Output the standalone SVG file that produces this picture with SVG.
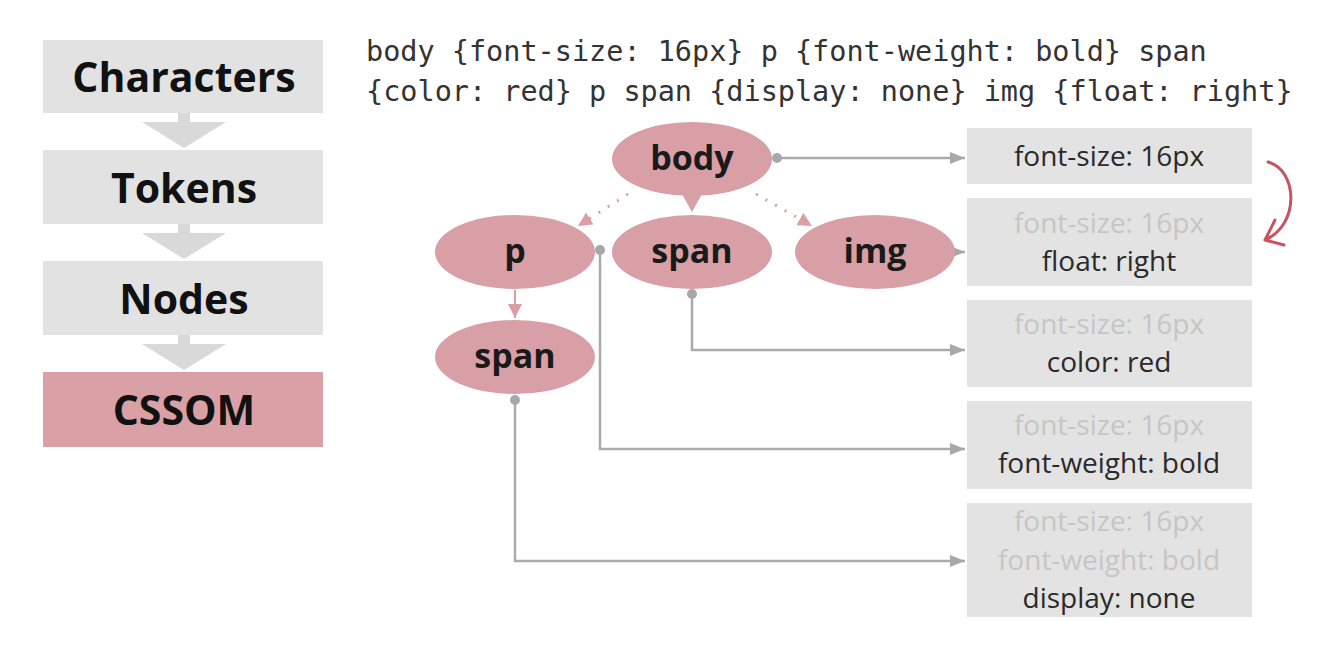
<svg xmlns="http://www.w3.org/2000/svg" width="1334" height="666" viewBox="0 0 1334 666">
<defs>
<style>
.step{fill:#e2e2e2}
.stepA{fill:#d9a0a6}
.stepT{font-family:"Open Sans","Liberation Sans",sans-serif;font-weight:bold;font-size:41px;fill:#111;text-anchor:middle}
.chev{fill:#d9d9d9}
.code{font-family:"DejaVu Sans Mono","Liberation Mono",monospace;font-size:28.5px;fill:#333}
.ell{fill:#d99fa6}
.ellT{font-family:"Open Sans","Liberation Sans",sans-serif;font-weight:bold;font-size:34px;fill:#1a1a1a;text-anchor:middle}
.box{fill:#e3e3e3}
.bt{font-family:"Open Sans","Liberation Sans",sans-serif;font-size:28px;fill:#2a2a2a;text-anchor:middle}
.bg{fill:#c6c6c6}
.con{fill:none;stroke:#aaaaaa;stroke-width:2.5}
.pk{fill:none;stroke:#d99fa6;stroke-width:2}
.dot{fill:#a8a8a8}
</style>
<marker id="gaL" viewBox="0 0 10 10" refX="10" refY="5" markerWidth="15" markerHeight="15" markerUnits="userSpaceOnUse" orient="auto"><path d="M0,1 L10,5 L0,9 z" fill="#a8a8a8"/></marker>
<marker id="pa" viewBox="0 0 10 10" refX="10" refY="5" markerWidth="14" markerHeight="14" markerUnits="userSpaceOnUse" orient="auto"><path d="M0,0 L10,5 L0,10 z" fill="#d99fa6"/></marker>
</defs>
<rect width="1334" height="666" fill="#ffffff"/>

<g id="steps">
<g id="step-characters"><rect class="step" x="43" y="40" width="280" height="73"/><text class="stepT" x="184" y="92">Characters</text></g>
<path class="chev" d="M178,113 H190 V122 H226 L184,148 L142,122 H178 Z"/>
<g id="step-tokens"><rect class="step" x="43" y="150" width="280" height="74"/><text class="stepT" x="184" y="203">Tokens</text></g>
<path class="chev" d="M178,224 H190 V233 H226 L184,259 L142,233 H178 Z"/>
<g id="step-nodes"><rect class="step" x="43" y="261" width="280" height="74"/><text class="stepT" x="184" y="314">Nodes</text></g>
<path class="chev" d="M178,335 H190 V344 H226 L184,370 L142,344 H178 Z"/>
<g id="step-cssom"><rect class="stepA" x="43" y="372" width="280" height="75"/><text class="stepT" x="184" y="425">CSSOM</text></g>
</g>

<g id="code">
<text class="code" x="366" y="61">body {font-size: 16px} p {font-weight: bold} span</text>
<text class="code" x="366" y="101">{color: red} p span {display: none} img {float: right}</text>
</g>

<g id="connectors">
<path class="con" d="M777,158 H965" marker-end="url(#gaL)"/>
<circle class="dot" cx="777" cy="158" r="5"/>
<path d="M682,194 L702,194 L692,212 Z" fill="#d99fa6"/>
<path d="M628,194 L578,226" stroke="#d99fa6" stroke-width="3" stroke-dasharray="2,9" fill="none" marker-end="url(#pa)"/>
<path d="M756,194 L812,226" stroke="#d99fa6" stroke-width="3" stroke-dasharray="2,9" fill="none" marker-end="url(#pa)"/>
<path class="pk" d="M515,290 V318" marker-end="url(#pa)"/>
<path class="con" d="M953,252 H965" marker-end="url(#gaL)"/>
<path class="con" d="M600,250 V449 H965" marker-end="url(#gaL)"/>
<circle class="dot" cx="600" cy="250" r="5"/>
<path class="con" d="M692,294 V350 H965" marker-end="url(#gaL)"/>
<circle class="dot" cx="692" cy="294" r="5"/>
<path class="con" d="M515,400 V561 H965" marker-end="url(#gaL)"/>
<circle class="dot" cx="515" cy="400" r="5"/>
<path d="M1268,162 C1298,170 1300,225 1265,240 M1265,240 L1275,220 M1265,240 L1284,245" fill="none" stroke="#c65462" stroke-width="3" stroke-linecap="round"/>
</g>

<g id="node-body"><ellipse class="ell" cx="692" cy="159" rx="80" ry="37"/><text class="ellT" x="692" y="170">body</text></g>
<g id="node-p"><ellipse class="ell" cx="515" cy="252" rx="80" ry="37"/><text class="ellT" x="515" y="263">p</text></g>
<g id="node-span"><ellipse class="ell" cx="692" cy="252" rx="80" ry="37"/><text class="ellT" x="692" y="263">span</text></g>
<g id="node-img"><ellipse class="ell" cx="875" cy="252" rx="80" ry="37"/><text class="ellT" x="875" y="263">img</text></g>
<g id="node-span2"><ellipse class="ell" cx="515" cy="357" rx="80" ry="37"/><text class="ellT" x="515" y="368">span</text></g>

<g id="box-body"><rect class="box" x="967" y="128" width="285" height="56"/><text class="bt" x="1109" y="166">font-size: 16px</text></g>
<g id="box-img"><rect class="box" x="967" y="198" width="285" height="88"/><text class="bt bg" x="1109" y="233">font-size: 16px</text><text class="bt" x="1109" y="271">float: right</text></g>
<g id="box-span"><rect class="box" x="967" y="300" width="285" height="87"/><text class="bt bg" x="1109" y="334">font-size: 16px</text><text class="bt" x="1109" y="372">color: red</text></g>
<g id="box-p"><rect class="box" x="967" y="401" width="285" height="88"/><text class="bt bg" x="1109" y="435">font-size: 16px</text><text class="bt" x="1109" y="473">font-weight: bold</text></g>
<g id="box-pspan"><rect class="box" x="967" y="503" width="285" height="114"/><text class="bt bg" x="1109" y="531">font-size: 16px</text><text class="bt bg" x="1109" y="570">font-weight: bold</text><text class="bt" x="1109" y="608">display: none</text></g>
</svg>
